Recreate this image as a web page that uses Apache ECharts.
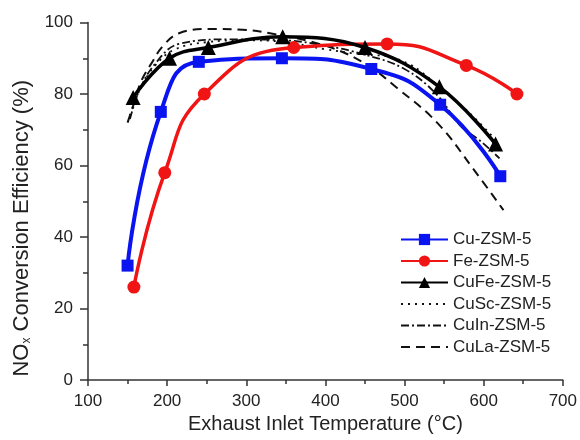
<!DOCTYPE html>
<html><head><meta charset="utf-8">
<script src="https://cdn.jsdelivr.net/npm/echarts@6/dist/echarts.min.js"></script>
<style>html,body{margin:0;padding:0;background:#fff}#c{width:580px;height:440px}</style>
</head><body><div id="c"></div>
<script>
// Categories / series names
const seriesNames = ['Cu-ZSM-5','Fe-ZSM-5','CuFe-ZSM-5','CuSc-ZSM-5','CuIn-ZSM-5','CuLa-ZSM-5'];
// Tick values
const xTicks = [100,200,300,400,500,600,700];
const yTicks = [0,20,40,60,80,100];
// Series data: temperature (°C) and NOx conversion (%)
const cuT   = [150,192,240,345,458,545,621];
const cuV   = [32,75,89,90,87,77,57];
const feT   = [158,197,247,360,478,578,642];
const feV   = [26,58,80,93,94,88,80];
const cufeT = [157,203,252,346,450,544,615];
const cufeV = [79,90,93,96,93,82,66];
const cuscT = [153,165,185,210,250,300,350,400,450,481,508,521,560,590,620];
const cuscV = [74,81,88,92.5,94.5,95,94.5,92.5,91,90.4,88.1,86.2,79,73,66];
const cuinT = [153,165,185,215,282,350,400,450,500,540,571,595,620];
const cuinV = [73,81,88.5,94,95.3,95,93.5,91,87,80,71,67,62];
const culaT = [150,159,167,180,195,215,253,295,330,400,450,491,542,588,625];
const culaV = [72,78,83.5,88.5,93.5,97,98.2,98,97,93.5,88.5,81.6,71.8,58.7,47.5];

const pairs = (t, v) => t.map((x, i) => [x, v[i]]);
const FONT = 'Liberation Sans, Arial, sans-serif';
const TXT = '#222';

const legendData = seriesNames.map((n, i) => i < 3 ? {name: n} : {name: n, itemStyle: {opacity: 0}});

const chart = echarts.init(document.getElementById('c'), null, {renderer: 'canvas'});
chart.setOption({
  backgroundColor: '#fff',
  animation: false,
  textStyle: {fontFamily: FONT, color: TXT},
  grid: {left: 88, right: 14, top: 22.5, bottom: 60, containLabel: false},
  legend: {
    orient: 'vertical', left: 400, top: 231, padding: 0,
    itemWidth: 47, itemHeight: 14, itemGap: 4.5,
    textStyle: {fontFamily: FONT, fontSize: 17, color: TXT, lineHeight: 17},
    data: legendData
  },
  xAxis: {
    type: 'value', min: xTicks[0], max: xTicks[xTicks.length-1], interval: 100,
    name: 'Exhaust Inlet Temperature (°C)', nameLocation: 'middle', nameGap: 18,
    nameTextStyle: {fontFamily: FONT, fontSize: 20, color: TXT},
    axisLine: {show: true, lineStyle: {color: '#333', width: 1.5}},
    axisTick: {show: true, inside: false, length: 6, lineStyle: {color: '#333', width: 1.5}},
    minorTick: {show: true, splitNumber: 2, length: 4, lineStyle: {color: '#333', width: 1.5}},
    axisLabel: {fontFamily: FONT, fontSize: 17, color: TXT, margin: 13},
    splitLine: {show: false}
  },
  yAxis: {
    type: 'value', min: yTicks[0], max: yTicks[yTicks.length-1], interval: 20,
    name: '{n|NO}{s|x}{n| Conversion Efficiency (%)}', nameLocation: 'middle', nameGap: 55, nameRotate: 90,
    nameTextStyle: {
      fontFamily: FONT, fontSize: 22, color: TXT, padding: [0, 54, 0, 0],
      rich: {
        n: {fontFamily: FONT, fontSize: 22, color: TXT},
        s: {fontFamily: FONT, fontSize: 12, color: TXT, verticalAlign: 'bottom', padding: [10, 0, 0, 0]}
      }
    },
    axisLine: {show: true, lineStyle: {color: '#333', width: 1.5}},
    axisTick: {show: true, inside: false, length: 8, lineStyle: {color: '#333', width: 1.5}},
    minorTick: {show: true, splitNumber: 2, length: 5, lineStyle: {color: '#333', width: 1.5}},
    axisLabel: {fontFamily: FONT, fontSize: 17, color: TXT, margin: 15},
    splitLine: {show: false}
  },
  series: [
    {name: seriesNames[3], type: 'line', smooth: 0.4, symbol: 'none', data: pairs(cuscT, cuscV),
     lineStyle: {color: '#111', width: 1.8, type: [2, 5]}, itemStyle: {color: '#111'}, z: 2},
    {name: seriesNames[4], type: 'line', smooth: 0.4, symbol: 'none', data: pairs(cuinT, cuinV),
     lineStyle: {color: '#111', width: 1.8, type: [8, 3, 2, 3]}, itemStyle: {color: '#111'}, z: 2},
    {name: seriesNames[5], type: 'line', smooth: 0.4, symbol: 'none', data: pairs(culaT, culaV),
     lineStyle: {color: '#111', width: 2, type: [9, 6]}, itemStyle: {color: '#111'}, z: 2},
    {name: seriesNames[0], type: 'line', smooth: 0.5, symbol: 'rect', symbolSize: 12,
     data: pairs(cuT, cuV), lineStyle: {color: '#0a14f0', width: 4}, itemStyle: {color: '#0a14f0'}, z: 3},
    {name: seriesNames[1], type: 'line', smooth: 0.5, symbol: 'circle', symbolSize: 13,
     data: pairs(feT, feV), lineStyle: {color: '#f01414', width: 3.5}, itemStyle: {color: '#f01414'}, z: 3},
    {name: seriesNames[2], type: 'line', smooth: 0.4, symbol: 'triangle', symbolSize: 15,
     data: pairs(cufeT, cufeV), lineStyle: {color: '#000', width: 3.5}, itemStyle: {color: '#000'}, z: 4}
  ]
});
</script>
</body></html>
